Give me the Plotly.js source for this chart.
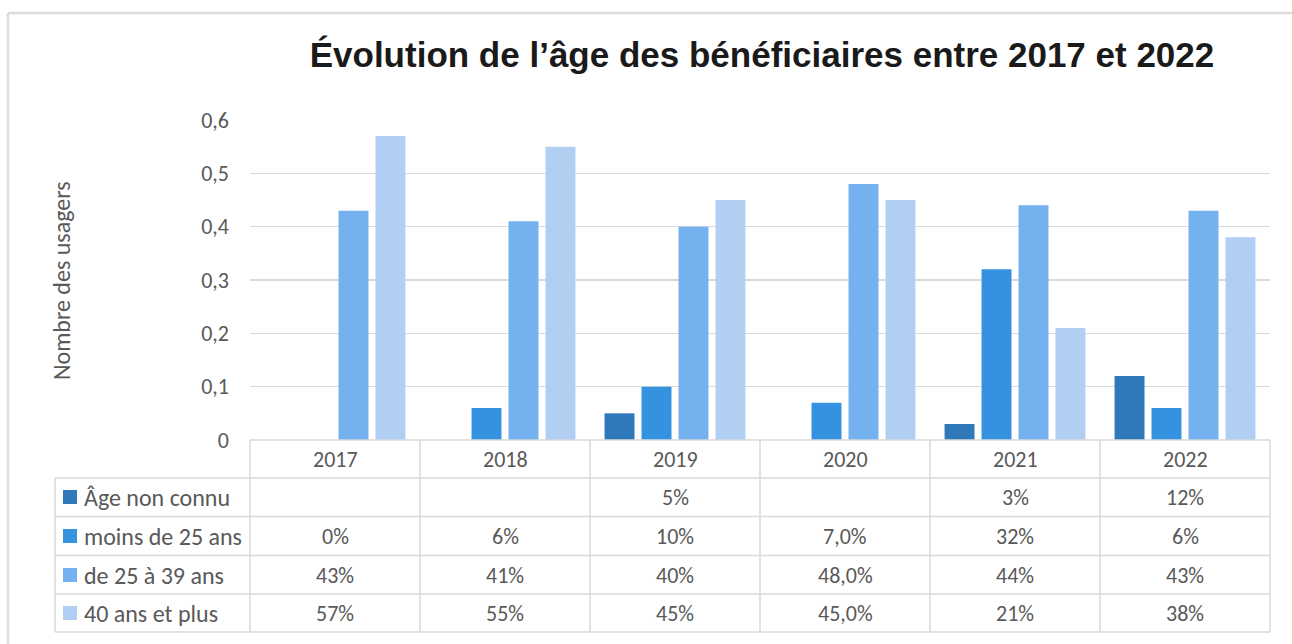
<!DOCTYPE html>
<html>
<head>
<meta charset="utf-8">
<script src="https://cdn.plot.ly/plotly-3.0.1.min.js"></script>
<style>
html,body{margin:0;padding:0;background:#fff;}
#chart{width:1292px;height:644px;}
</style>
</head>
<body>
<div id="chart"></div>
<script>
// ---- data ----
const years = ['2017', '2018', '2019', '2020', '2021', '2022'];
const seriesNames = ['Âge non connu', 'moins de 25 ans', 'de 25 à 39 ans', '40 ans et plus'];
const ageNonConnu = [null, null, 0.05, null, 0.03, 0.12];
const moins25 = [0, 0.06, 0.10, 0.07, 0.32, 0.06];
const de25a39 = [0.43, 0.41, 0.40, 0.48, 0.44, 0.43];
const plus40 = [0.57, 0.55, 0.45, 0.45, 0.21, 0.38];
const labelsNonConnu = ['', '', '5%', '', '3%', '12%'];
const labelsMoins25 = ['0%', '6%', '10%', '7,0%', '32%', '6%'];
const labels25a39 = ['43%', '41%', '40%', '48,0%', '44%', '43%'];
const labels40 = ['57%', '55%', '45%', '45,0%', '21%', '38%'];
const yTicks = [0, 0.1, 0.2, 0.3, 0.4, 0.5, 0.6];
const yTickText = ['0', '0,1', '0,2', '0,3', '0,4', '0,5', '0,6'];

// ---- style ----
const colors = ['#2f78b9', '#3592e0', '#74b1ef', '#b0cff3'];
const txtCol = '#595959';
const lineCol = '#d9d9d9';
const font = 'Carlito, Lato, "Open Sans", sans-serif';
const fs = 22;

const W = 1292, H = 644;
const L = 250, R = 1270, T = 120, B = 440;
const px2x = p => (p - L) / (R - L);
const py2y = p => (B - p) / (B - T);

const seriesVals = [ageNonConnu, moins25, de25a39, plus40];
const seriesLabels = [labelsNonConnu, labelsMoins25, labels25a39, labels40];

const traces = seriesVals.map((v, i) => ({
  type: 'bar', x: years, y: v, name: seriesNames[i],
  marker: {color: colors[i]}, hoverinfo: 'x+y+name', showlegend: false
}));

// table geometry (pixels)
const rowLines = [478, 516.5, 555.5, 594, 632];
const colEdges = [250, 420, 590, 760, 930, 1100, 1270];
const shapes = [];
rowLines.forEach(py => shapes.push({type: 'line', xref: 'paper', yref: 'paper',
  x0: px2x(55), x1: px2x(1270), y0: py2y(py), y1: py2y(py), line: {color: lineCol, width: 1.5}}));
shapes.push({type: 'line', xref: 'paper', yref: 'paper', x0: 0, x1: 1, y0: 0, y1: 0, line: {color: lineCol, width: 1.5}});
colEdges.forEach(px => shapes.push({type: 'line', xref: 'paper', yref: 'paper',
  x0: px2x(px), x1: px2x(px), y0: py2y(440), y1: py2y(632), line: {color: lineCol, width: 1.5}}));
shapes.push({type: 'line', xref: 'paper', yref: 'paper', x0: px2x(55), x1: px2x(55),
  y0: py2y(478), y1: py2y(632), line: {color: lineCol, width: 1.5}});
// outer frame
shapes.push({type: 'line', xref: 'paper', yref: 'paper', x0: px2x(8), x1: px2x(1300),
  y0: py2y(13), y1: py2y(13), line: {color: '#dcdcdc', width: 2.5}});
shapes.push({type: 'line', xref: 'paper', yref: 'paper', x0: px2x(8), x1: px2x(8),
  y0: py2y(13), y1: py2y(650), line: {color: '#dcdcdc', width: 2.5}});

const annotations = [];
// header years (category index positions on the x axis)
years.forEach((yr, c) => annotations.push({xref: 'x', yref: 'paper', x: c, y: py2y(459),
  text: yr, showarrow: false, font: {family: font, size: fs, color: txtCol}, yanchor: 'middle'}));
const rowCenters = [497, 536, 575, 613];
seriesLabels.forEach((labs, r) => {
  // legend key
  shapes.push({type: 'rect', xref: 'paper', yref: 'paper', x0: px2x(63), x1: px2x(77),
    y0: py2y(rowCenters[r] - 7), y1: py2y(rowCenters[r] + 7), fillcolor: colors[r], line: {width: 0}});
  annotations.push({xref: 'paper', yref: 'paper', x: px2x(82), y: py2y(rowCenters[r]),
    xanchor: 'left', yanchor: 'middle', text: seriesNames[r], showarrow: false,
    font: {family: font, size: 24, color: txtCol}});
  labs.forEach((t, c) => {
    if (t) annotations.push({xref: 'x', yref: 'paper', x: c, y: py2y(rowCenters[r]),
      text: t, showarrow: false, yanchor: 'middle', font: {family: font, size: fs, color: txtCol}});
  });
});
// y-axis title
annotations.push({xref: 'paper', yref: 'paper', x: px2x(61), y: py2y(281), text: 'Nombre des usagers',
  textangle: -90, showarrow: false, xanchor: 'center', yanchor: 'middle',
  font: {family: font, size: 24, color: txtCol}});

const layout = {
  width: W, height: H,
  margin: {l: L, r: W - R, t: T, b: H - B, pad: 0},
  paper_bgcolor: '#fff', plot_bgcolor: '#fff',
  barmode: 'group', bargap: 0.13, bargroupgap: 0.19,
  title: {text: 'Évolution de l’âge des bénéficiaires entre 2017 et 2022',
    font: {family: '"Liberation Sans Narrow", "Arial Narrow", "Liberation Sans", Arial, sans-serif', size: 35, color: '#1a1a1a', weight: 'bold'},
    xref: 'container', yref: 'container', x: 762 / W, y: 1 - 55 / H, xanchor: 'center', yanchor: 'middle'},
  xaxis: {type: 'category', range: [-0.5, years.length - 0.5], showticklabels: false, showgrid: false,
    zeroline: false, showline: false, ticks: ''},
  yaxis: {range: [0, 0.6], tickvals: yTicks, ticktext: yTickText, showgrid: true, gridcolor: lineCol, gridwidth: 1.5,
    zeroline: false, showline: false, ticks: '', ticklabelstandoff: 20,
    tickfont: {family: font, size: fs, color: txtCol}},
  shapes: shapes, annotations: annotations, showlegend: false
};

Plotly.newPlot('chart', traces, layout, {displayModeBar: false, staticPlot: true});
</script>
</body>
</html>
